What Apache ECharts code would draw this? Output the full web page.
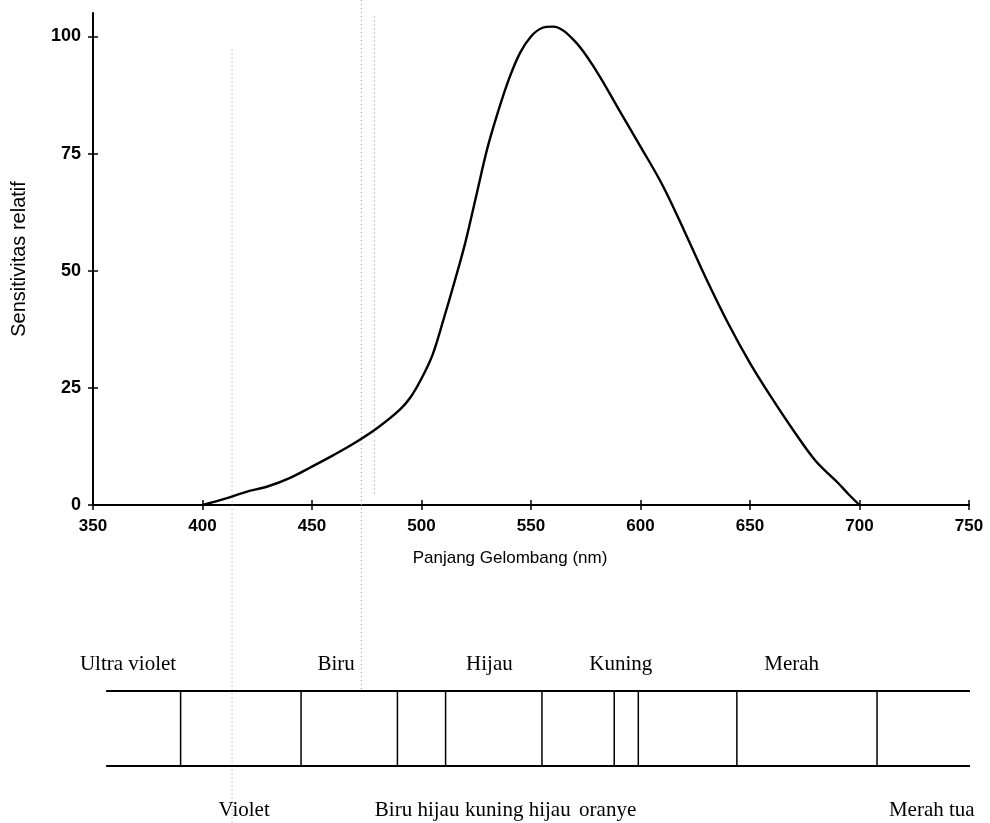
<!DOCTYPE html>
<html>
<head>
<meta charset="utf-8">
<title>Sensitivitas relatif</title>
<script src="https://cdn.jsdelivr.net/npm/echarts@6/dist/echarts.min.js"></script>
<style>
  html, body { margin: 0; padding: 0; background: #fff; }
  #main { width: 990px; height: 823px; }
</style>
</head>
<body>
<div id="main"></div>
<script>
// kurva sensitivitas mata
var wavelength = [400, 410, 420, 430, 440, 450, 460, 470, 480, 490, 495, 500, 505, 510, 515, 520, 525, 530, 535, 540, 545, 550, 555, 560, 570, 580, 590, 600, 610, 620, 630, 640, 650, 660, 670, 680, 690, 695, 700];
var sensitivity = [0, 1.3, 2.8, 4.0, 5.8, 8.2, 10.7, 13.4, 16.5, 20.3, 23.0, 27.0, 32.0, 39.5, 47.5, 56.0, 66.0, 76.0, 84.0, 91.0, 96.5, 100.0, 101.8, 102.1, 99.0, 92.5, 84.5, 76.5, 68.3, 58.5, 48.3, 38.8, 30.3, 22.8, 15.8, 9.4, 4.8, 2.3, 0];
var yTicks = [0, 25, 50, 75, 100];

// pita spektrum warna (posisi dalam nm)
var bandRail = [356, 752];
var bandDividers = [390, 445, 489, 511, 555, 588, 599, 644, 708];
var topNames = ['Ultra violet', 'Biru', 'Hijau', 'Kuning', 'Merah'];
var topPos = [366, 461, 531, 591, 669];
var bottomNames = ['Violet', 'Biru hijau', 'kuning hijau', 'oranye', 'Merah tua'];
var bottomPos = [419, 498, 544, 585, 733];

// garis titik-titik bekas scan
var guideX = [413.5, 472.5, 478.5];
var guideFrom = [0.06, 0, 0.02];
var guideTo = [1, 0.84, 0.6];

var chart = echarts.init(document.getElementById('main'));

var curve = wavelength.map(function (w, i) { return [w, sensitivity[i]]; });
var labels = [];
topNames.forEach(function (n, i) { labels.push([topPos[i], 1.35, n]); });
bottomNames.forEach(function (n, i) { labels.push([bottomPos[i], -0.59, n]); });
var guides = guideX.map(function (x, i) { return [x, guideFrom[i], guideTo[i]]; });

var sans = 'Liberation Sans, Arial, sans-serif';
var serif = 'Liberation Serif, Times New Roman, serif';

var option = {
    animation: false,
    backgroundColor: '#fff',
    grid: [
        { left: 93, right: 21, top: 13, bottom: 318 },
        { left: 93, right: 21, top: 691, bottom: 57 },
        { left: 93, right: 21, top: 0, bottom: 0 }
    ],
    xAxis: [
        {
            gridIndex: 0, type: 'value', min: 350, max: 750, interval: 50,
            position: 'bottom',
            name: 'Panjang Gelombang (nm)', nameLocation: 'middle', nameGap: 45,
            nameTextStyle: { color: '#000', fontFamily: sans, fontSize: 17, padding: [0, 42, 0, 0] },
            axisLine: { lineStyle: { color: '#000', width: 2 } },
            axisTick: { length: 5, lineStyle: { color: '#000', width: 1.5 } },
            axisLabel: { color: '#000', fontFamily: sans, fontSize: 17, fontWeight: 'bold', margin: 13 },
            splitLine: { show: false }
        },
        {
            gridIndex: 0, type: 'value', min: 350, max: 750, interval: 50,
            position: 'bottom', offset: 0,
            axisLine: { show: false },
            axisTick: { inside: true, length: 5, lineStyle: { color: '#000', width: 1.5 } },
            axisLabel: { show: false },
            splitLine: { show: false }
        },
        { gridIndex: 1, type: 'value', min: 350, max: 750, show: false },
        { gridIndex: 2, type: 'value', min: 350, max: 750, show: false }
    ],
    yAxis: [
        {
            gridIndex: 0, type: 'value', min: 0, max: 105,
            position: 'left',
            name: 'Sensitivitas relatif', nameLocation: 'middle', nameGap: 64,
            nameTextStyle: { color: '#000', fontFamily: sans, fontSize: 20 },
            axisLine: { lineStyle: { color: '#000', width: 2 } },
            axisTick: { length: 5, customValues: yTicks, lineStyle: { color: '#000', width: 1.5 } },
            axisLabel: { color: '#000', fontFamily: sans, fontSize: 18, fontWeight: 'bold', margin: 12, customValues: yTicks },
            splitLine: { show: false }
        },
        {
            gridIndex: 0, type: 'value', min: 0, max: 105,
            position: 'left', offset: 0,
            axisLine: { show: false },
            axisTick: { inside: true, length: 5, customValues: yTicks, lineStyle: { color: '#000', width: 1.5 } },
            axisLabel: { show: false },
            splitLine: { show: false }
        },
        { gridIndex: 1, type: 'value', min: 0, max: 1, show: false },
        { gridIndex: 2, type: 'value', min: 0, max: 1, inverse: true, show: false }
    ],
    series: [
        {
            type: 'line', xAxisIndex: 0, yAxisIndex: 0,
            data: curve, smooth: 0.35, showSymbol: false, silent: true, z: 5,
            lineStyle: { color: '#000', width: 2.4 }
        },
        {
            type: 'line', xAxisIndex: 2, yAxisIndex: 2, clip: false,
            data: [[bandRail[0], 1], [bandRail[1], 1]], showSymbol: false, silent: true,
            lineStyle: { color: '#000', width: 2 }
        },
        {
            type: 'line', xAxisIndex: 2, yAxisIndex: 2, clip: false,
            data: [[bandRail[0], 0], [bandRail[1], 0]], showSymbol: false, silent: true,
            lineStyle: { color: '#000', width: 2 }
        },
        {
            type: 'custom', xAxisIndex: 2, yAxisIndex: 2, silent: true, clip: false,
            data: bandDividers.map(function (d) { return [d]; }),
            encode: { x: 0 },
            renderItem: function (params, api) {
                var p0 = api.coord([api.value(0), 0]);
                var p1 = api.coord([api.value(0), 1]);
                return {
                    type: 'line',
                    shape: { x1: p0[0], y1: p0[1], x2: p1[0], y2: p1[1] },
                    style: { stroke: '#000', lineWidth: 1.5 }
                };
            }
        },
        {
            type: 'custom', xAxisIndex: 2, yAxisIndex: 2, silent: true, clip: false,
            data: labels,
            encode: { x: 0, y: 1 },
            renderItem: function (params, api) {
                var p = api.coord([api.value(0), api.value(1)]);
                return {
                    type: 'text',
                    x: p[0], y: p[1],
                    style: {
                        text: labels[params.dataIndex][2],
                        align: 'center', verticalAlign: 'middle',
                        fill: '#000', font: '21px ' + serif
                    }
                };
            }
        },
        {
            type: 'custom', xAxisIndex: 3, yAxisIndex: 3, silent: true, clip: false, z: 1,
            data: guides,
            encode: { x: 0 },
            renderItem: function (params, api) {
                var p0 = api.coord([api.value(0), api.value(1)]);
                var p1 = api.coord([api.value(0), api.value(2)]);
                return {
                    type: 'line',
                    shape: { x1: p0[0], y1: p0[1], x2: p1[0], y2: p1[1] },
                    style: { stroke: '#9a9a9a', lineWidth: 1, lineDash: [1, 3] }
                };
            }
        }
    ]
};

chart.setOption(option);
</script>
</body>
</html>
